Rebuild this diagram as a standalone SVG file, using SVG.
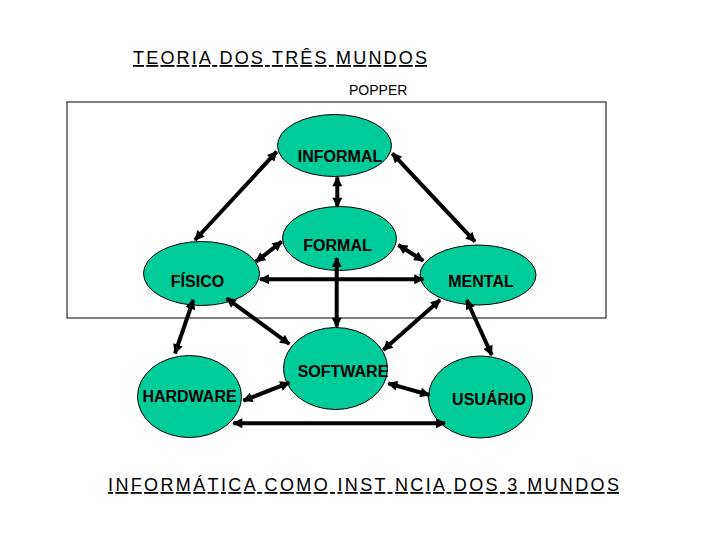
<svg xmlns="http://www.w3.org/2000/svg" width="720" height="540" viewBox="0 0 720 540">
<style>
.n{fill:#00cc99;stroke:#000;stroke-width:1}
.l{font-family:"Liberation Sans",Arial,sans-serif;font-weight:bold;font-size:16px;text-anchor:middle;fill:#000}
.t{font-family:"Liberation Sans",Arial,sans-serif;font-size:18px;fill:#000;text-decoration:underline}
#c line{stroke:#000;stroke-width:4;marker-start:url(#a);marker-end:url(#a)}
</style>
<defs>
<marker id="a" viewBox="0 0 10 10" refX="9" refY="5" markerWidth="11" markerHeight="10" markerUnits="userSpaceOnUse" orient="auto-start-reverse"><path d="M0,0L10,5L0,10z" fill="#000"/></marker>
</defs>
<rect width="720" height="540" fill="#fff"/>
<text class="t" x="133" y="64" textLength="294">TEORIA  DOS  TRÊS  MUNDOS</text>
<text x="349" y="95" font-family="Liberation Sans,Arial,sans-serif" font-size="14">POPPER</text>
<rect x="67" y="102" width="539" height="216" fill="none" stroke="#000" stroke-width="1"/>
<g id="informal"><ellipse class="n" cx="334.5" cy="145.5" rx="57" ry="31"/><text class="l" x="340" y="162">INFORMAL</text></g>
<g id="formal"><ellipse class="n" cx="339.5" cy="238.5" rx="57" ry="32"/><text class="l" x="337.5" y="251">FORMAL</text></g>
<g id="fisico"><ellipse class="n" cx="201.5" cy="273.5" rx="58" ry="32"/><text class="l" x="197.5" y="287">FÍSICO</text></g>
<g id="mental"><ellipse class="n" cx="478" cy="275" rx="58" ry="30"/><text class="l" x="481" y="287">MENTAL</text></g>
<g id="software"><ellipse class="n" cx="335.5" cy="368.5" rx="52" ry="41"/><text class="l" x="343" y="377">SOFTWARE</text></g>
<g id="hardware"><ellipse class="n" cx="189.5" cy="396.5" rx="52" ry="41"/><text class="l" x="189.5" y="402">HARDWARE</text></g>
<g id="usuario"><ellipse class="n" cx="480.5" cy="397" rx="52" ry="41"/><text class="l" x="489" y="405">USUÁRIO</text></g>
<g id="c">
<line x1="276.7" y1="151.7" x2="195" y2="240"/>
<line x1="337.3" y1="177.3" x2="337.3" y2="206.7"/>
<line x1="392.3" y1="153.3" x2="475" y2="241.7"/>
<line x1="281.7" y1="241.7" x2="256" y2="261.7"/>
<line x1="398.3" y1="245" x2="423.3" y2="260.7"/>
<line x1="260" y1="279.3" x2="423.3" y2="279.3"/>
<line x1="336.7" y1="258" x2="336.7" y2="326.7"/>
<line x1="226.7" y1="298.3" x2="289.3" y2="344"/>
<line x1="440" y1="300" x2="383.3" y2="350"/>
<line x1="193.3" y1="300" x2="175" y2="353.3"/>
<line x1="466.7" y1="300" x2="491.7" y2="355"/>
<line x1="289.3" y1="382.7" x2="243.3" y2="400.7"/>
<line x1="388.3" y1="383.3" x2="429.3" y2="395"/>
<line x1="233.3" y1="423.3" x2="445" y2="423.3"/>
</g>
<text class="t" x="108" y="491" textLength="511">INFORMÁTICA  COMO  INST NCIA  DOS  3  MUNDOS</text>
</svg>
